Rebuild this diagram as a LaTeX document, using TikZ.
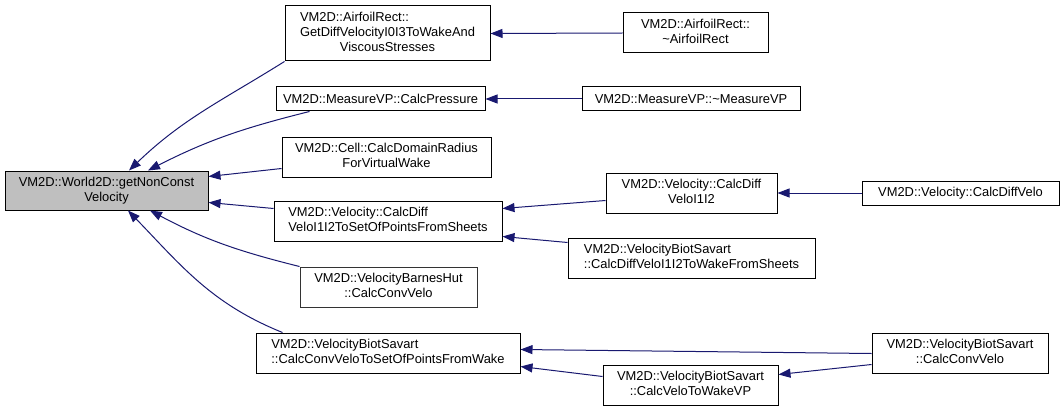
\documentclass[tikz,border=0pt]{standalone}
\usepackage{fontspec}
\setmainfont{Liberation Sans}
\usetikzlibrary{arrows.meta,calc}
\definecolor{edgeblue}{HTML}{191970}
\definecolor{rootgray}{HTML}{BFBFBF}
\newcommand\dxfont{\fontsize{12.9}{15}\selectfont}
\newcommand\Lc[1]{\multicolumn{1}{@{}c@{}}{#1}}
\newcommand\Tb[1]{\begin{tabular}{@{}l@{}}#1\end{tabular}}
\begin{document}
\begin{tikzpicture}[x=1pt,y=-1pt,
  box/.style={draw=black, fill=white, line width=1pt, inner sep=0pt, font=\dxfont, text=black},
  rootbox/.style={box, fill=rootgray},
  edge/.style={draw=edgeblue, line width=1pt, {Triangle[length=12pt,width=9pt,fill=edgeblue]}-}
]
\useasboundingbox (0,0) rectangle (1064,409);
% nodes
\node[rootbox, minimum width=203, minimum height=39] (root) at (106.5,190.5) {\Tb{VM2D::World2D::getNonConst\\\Lc{Velocity}}};
\node[box, minimum width=205, minimum height=55] (gd) at (387.5,33.5) {\Tb{VM2D::AirfoilRect::\\GetDiffVelocityI0I3ToWakeAnd\\\Lc{ViscousStresses}}};
\node[box, minimum width=209, minimum height=24] (cp) at (380.5,99) {VM2D::MeasureVP::CalcPressure};
\node[box, minimum width=209, minimum height=40] (cell) at (386.5,157) {\Tb{VM2D::Cell::CalcDomainRadius\\\Lc{ForVirtualWake}}};
\node[box, minimum width=228, minimum height=40] (sh) at (388,221) {\Tb{VM2D::Velocity::CalcDiff\\\Lc{VeloI1I2ToSetOfPointsFromSheets}}};
\node[box, draw=black!80, minimum width=177, minimum height=40] (bh) at (388.5,287) {\Tb{VM2D::VelocityBarnesHut\\\Lc{::CalcConvVelo}}};
\node[box, minimum width=264, minimum height=40] (cs) at (388,353) {\Tb{VM2D::VelocityBiotSavart\\\Lc{::CalcConvVeloToSetOfPointsFromWake}}};
\node[box, minimum width=145, minimum height=40] (ar) at (695.5,33) {\Tb{VM2D::AirfoilRect::\\\Lc{\textasciitilde AirfoilRect}}};
\node[box, minimum width=218, minimum height=24] (mv) at (691,99) {VM2D::MeasureVP::\textasciitilde MeasureVP};
\node[box, minimum width=171, minimum height=40] (cd12) at (691.5,193) {\Tb{VM2D::Velocity::CalcDiff\\\Lc{VeloI1I2}}};
\node[box, minimum width=247, minimum height=40] (wf) at (691.5,258) {\Tb{VM2D::VelocityBiotSavart\\\Lc{::CalcDiffVeloI1I2ToWakeFromSheets}}};
\node[box, minimum width=175, minimum height=40] (vw) at (690.5,385) {\Tb{VM2D::VelocityBiotSavart\\\Lc{::CalcVeloToWakeVP}}};
\node[box, minimum width=197, minimum height=24] (cdv) at (960.5,193) {VM2D::Velocity::CalcDiffVelo};
\node[box, minimum width=176, minimum height=40] (ccv) at (960,353) {\Tb{VM2D::VelocityBiotSavart\\\Lc{::CalcConvVelo}}};
% edges into root
\draw[edge] ($(root.north)+(22.5,0)$) to[out=44,in=212] (gd.south west);
\draw[edge] ($(root.north)+(41.5,0)$) to[out=27,in=194] ($(cp.south west)+(34,0)$);
\draw[edge] ($(root.north east)+(0,6)$) -- ($(cell.north west)+(0,32)$);
\draw[edge] ($(root.north east)+(0,32)$) -- ($(sh.north west)+(0,8)$);
\draw[edge] ($(root.south)+(43.5,0)$) to[out=-28,in=166] (bh.north west);
\draw[edge] ($(root.south)+(21.5,0)$) to[out=-46,in=158] ($(cs.north west)+(27,0)$);
% other edges
\draw[edge] (gd.east) -- (ar.west);
\draw[edge] (cp.east) -- (mv.west);
\draw[edge] ($(sh.north east)+(0,8)$) -- ($(cd12.north west)+(0,28)$);
\draw[edge] ($(sh.south east)+(0,-5)$) -- ($(wf.north west)+(0,5)$);
\draw[edge] (cd12.east) -- (cdv.west);
\draw[edge] ($(cs.north east)+(0,17)$) -- ($(ccv.north west)+(0,21)$);
\draw[edge] ($(vw.north east)+(0,10)$) -- ($(ccv.north west)+(0,32)$);
\draw[edge] ($(cs.north east)+(0,34)$) -- ($(vw.north west)+(0,12)$);
\end{tikzpicture}
\end{document}
